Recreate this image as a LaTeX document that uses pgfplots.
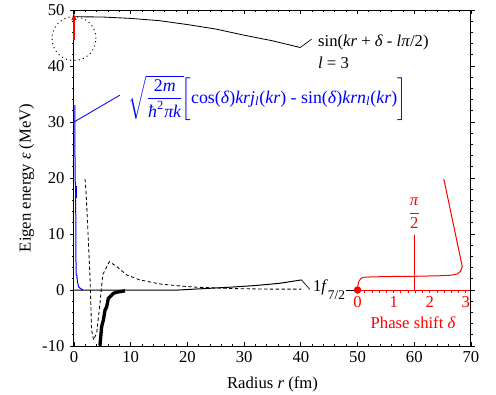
\documentclass[border=0pt]{standalone}
\usepackage{fontspec}
\setmainfont{Liberation Serif}
\usepackage{amsmath}
\usepackage{xcolor}
\usepackage{pgfplots}
\pgfplotsset{compat=1.18}
\usepackage{pgfplotstable}
\usetikzlibrary{arrows.meta}

% asymptotic sine wave (thin black)
\pgfplotstableread{
r E
0 48.8
5 48.75
10 48.5
15 48.1
20 47.4
25 46.6
30 45.5
35 44.5
39.9 43.3
}\sinewave

% continuum wavefunction (blue)
\pgfplotstableread{
r E
0.15 33
0.17 25
0.2 19.5
0.28 18.5
0.3 16.4
0.32 10
0.36 4
0.4 2.7
0.5 2.6
0.6 1.5
0.8 0.6
1.2 0.2
1.6 0.05
}\bluewave

% dashed wave
\pgfplotstableread{
r E
1.94 19.8
2.12 17.6
2.53 8.9
2.82 2.4
3.1 -7.1
3.45 -8.9
4.0 -7.7
4.58 -2.4
5.06 2.7
6.23 5.05
7.52 4.2
9.28 2.7
11.6 1.8
15.2 1.07
19.0 0.7
21.6 0.5
28.1 0.25
35 0.15
40.1 0.15
}\dashedwave

% thin solid wave
\pgfplotstableread{
r E
0 0
18.5 0
22 0.2
27.5 0.5
32 0.8
36.3 1.2
40.1 1.8
}\solidwave

% bound state (thick black)
\pgfplotstableread{
r E
4.47 -10
4.58 -9.9
4.88 -6.5
5.17 -5.4
5.47 -3.6
5.76 -3.0
6.05 -1.5
6.64 -0.9
6.94 -0.6
7.5 -0.4
8.7 -0.2
9.0 -0.15
}\boundwave

% phase shift delta vs energy
\pgfplotstableread{
d E
0 0
0.01 0.8
0.04 1.6
0.1 2.1
0.2 2.3
0.8 2.4
1.6 2.45
2.3 2.55
2.6 2.65
2.76 2.86
2.85 3.3
2.9 4.2
2.39 19.8
}\phase

\pgfplotstableread{
d E
0 -0.45
0.2 -0.45
0.4 -0.45
0.6 -0.45
0.8 -0.45
1 -0.45
1.2 -0.45
1.4 -0.45
1.6 -0.45
1.8 -0.45
2 -0.45
2.2 -0.45
2.4 -0.45
2.6 -0.45
2.8 -0.45
3 -0.45
}\phaseticks

\begin{document}
\begin{tikzpicture}
\useasboundingbox (0,0) rectangle (297.6pt,236.4pt);
\begin{axis}[
  at={(44.4pt,28.8pt)}, anchor=south west,
  width=238.2pt, height=201.6pt, scale only axis,
  xmin=0, xmax=70, ymin=-10, ymax=50,
  xtick={0,10,...,70}, ytick={-10,0,...,50},
  minor x tick num=4, minor y tick num=4,
  xtick align=inside, ytick align=outside,
  major tick length=2.2pt, minor tick length=1.4pt,
  tick style={black, line width=0.5pt},
  axis line style={line width=0.6pt},
  /pgf/number format/assume math mode=true,
  xlabel={Radius \textit{r} (fm)},
  ylabel={Eigen energy \textit{ε} (MeV)},
  xlabel style={at={(axis description cs:0.5,-0.125)}, anchor=base},
  ylabel style={at={(axis description cs:-0.109,0.5)}, anchor=base},
  clip=false,
]
% sine wave and leader
\addplot[black, line width=0.5pt] table {\sinewave};
\addplot[black, line width=0.4pt] coordinates {(39.9,43.3) (41.9,44.8)};
\node[anchor=base west, inner sep=0] at (axis cs:43.0,43.45) {sin(\textit{kr} + \textit{δ} - \textit{lπ}/2)};
\node[anchor=base west, inner sep=0] at (axis cs:43.0,39.6) {\textit{l} = 3};
% red arrow and dotted circle
\addplot[red, line width=0.8pt, -{Latex[length=4pt,width=3.5pt]}] coordinates {(0,44.6) (0,49.4)};
\addplot[only marks, mark=o, mark size=13.2pt, mark options={black, dotted, line width=0.6pt}] coordinates {(0,44.9)};
% blue wave
\addplot[blue, line width=0.6pt] table {\bluewave};
\addplot[blue, line width=1.3pt] coordinates {(0.3,16.4) (0.3,18.6)};
\addplot[blue, line width=0.5pt] coordinates {(0,30) (8.1,34.8)};
\node[anchor=west, inner sep=0, text=blue, scale=1.07] at (axis cs:9.5,34.3)
  {$\sqrt{\dfrac{\text{2\textit{m}}}{\text{\textit{ħ}}^{\text{2}}\text{\textit{πk}}}}\hspace{-1pt}\bigg[$cos(\textit{δ})\textit{krj}\textsubscript{\textit{l}}(\textit{kr}) - sin(\textit{δ})\textit{krn}\textsubscript{\textit{l}}(\textit{kr})$\bigg]$};
% dashed, solid, bound
\addplot[black, dashed, line width=0.5pt, dash pattern=on 2pt off 1.5pt] table {\dashedwave};
\addplot[black, line width=0.6pt] table {\solidwave};
\addplot[black, line width=0.4pt] coordinates {(40.1,1.8) (41.6,0.1)};
\addplot[black, line width=2pt] table {\boundwave};
\node[anchor=base west, inner sep=0] at (axis cs:42.1,-0.3) {1\textit{f}\raisebox{-4.5pt}{\footnotesize 7/2}};
% phase shift inset
\addplot[black, line width=0.6pt] coordinates {(48.0,0) (49.6,0)};
\addplot[red, line width=0.6pt] coordinates {(49.6,0) (69.9,0)};
\addplot[red, ycomb, line width=0.5pt] table[x expr={50+\thisrow{d}*20/pi}, y=E] {\phaseticks};
\addplot[red, line width=0.6pt] table[x expr={50+\thisrow{d}*20/pi}, y=E] {\phase};
\addplot[red, only marks, mark=*, mark size=2pt] coordinates {(50,0)};
\addplot[red, line width=0.6pt] coordinates {(60,0) (60,9.8)};
\node[text=red] at (axis cs:60,13.7) {$\displaystyle\frac{\text{\textit{π}}}{\text{2}}$};
\node[text=red, anchor=north, inner sep=0] at (axis cs:50,-1.1) {0};
\node[text=red, anchor=north, inner sep=0] at (axis cs:56.37,-1.1) {1};
\node[text=red, anchor=north, inner sep=0] at (axis cs:62.73,-1.1) {2};
\node[text=red, anchor=north, inner sep=0] at (axis cs:69.1,-1.1) {3};
\node[text=red] at (axis cs:59.8,-5.9) {Phase shift \textit{δ}};
\end{axis}
\end{tikzpicture}
\end{document}
